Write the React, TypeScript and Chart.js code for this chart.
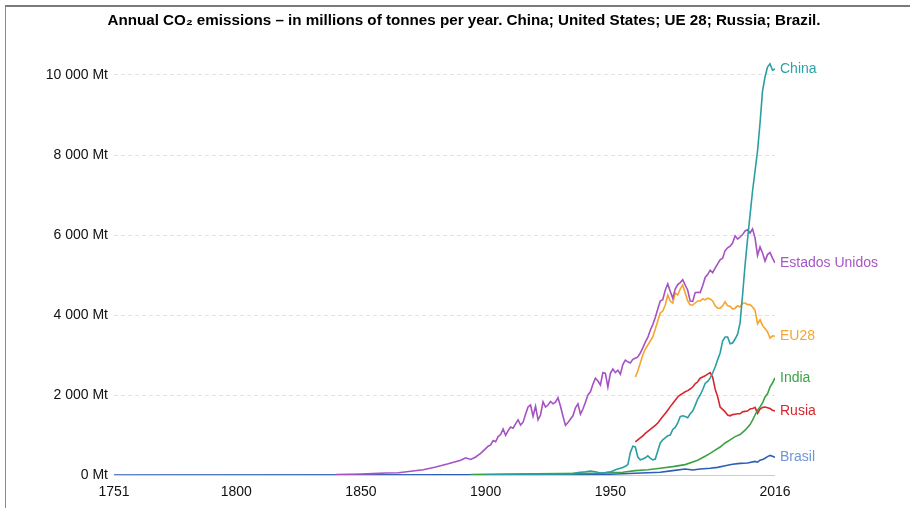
import React, { useEffect, useRef } from 'react';
import { Chart, registerables } from 'chart.js';

Chart.register(...registerables);

const span = (a: number, b: number) => Array.from({ length: b - a + 1 }, (_, i) => a + i);

const TITLE = 'Annual CO\u2082 emissions \u2013 in millions of tonnes per year. China; United States; UE 28; Russia; Brazil.';

const xTicks = [1751, 1800, 1850, 1900, 1950, 2016];
const yTicks = [0, 2000, 4000, 6000, 8000, 10000];

const chinaYears = [1900, 1910, 1920, 1930, 1935, 1937, 1940, 1942, 1944, 1946, 1948, 1950, ...span(1951, 2016)];
const chinaValues = [
  5, 10, 15, 25, 35, 60, 80, 100, 80, 50, 60, 80,
  100, 130, 150, 170, 190, 220, 260, 560, 720, 700,
  450, 380, 400, 430, 480, 420, 380, 400, 600, 800,
  880, 930, 980, 1000, 1140, 1190, 1300, 1460, 1480, 1460,
  1430, 1530, 1600, 1740, 1900, 2000, 2130, 2290, 2340, 2420,
  2550, 2700, 2880, 3050, 3350, 3450, 3450, 3280, 3300, 3400,
  3520, 3800, 4500, 5250, 5900, 6500, 7100, 7600, 8100, 8800,
  9600, 9950, 10200, 10280, 10120, 10150,
];

const usYears = [1840, 1845, 1850, 1855, 1860, 1865, 1870, 1875, 1880, 1885, 1890, 1892, 1894, 1896, 1898, ...span(1900, 2016)];
const usValues = [
  10, 15, 25, 35, 50, 55, 95, 130, 200, 280, 370, 430, 390, 450, 540,
  660, 720, 750, 860, 830, 960, 1010, 1150, 990, 1110,
  1200, 1170, 1280, 1380, 1250, 1320, 1520, 1700, 1750, 1470,
  1720, 1380, 1500, 1830, 1700, 1750, 1840, 1780, 1820, 1930,
  1720, 1470, 1240, 1310, 1400, 1480, 1680, 1780, 1520, 1650,
  1820, 2000, 2080, 2270, 2420, 2350, 2250, 2560, 2540, 2200,
  2540, 2650, 2560, 2620, 2520, 2760, 2870, 2830, 2800, 2890,
  2920, 2950, 3050, 3180, 3320, 3440, 3620, 3760, 3940, 4150,
  4350, 4380, 4620, 4780, 4590, 4420, 4650, 4760, 4810, 4880,
  4750, 4620, 4350, 4340, 4560, 4570, 4560, 4730, 4940, 5010,
  5120, 5060, 5170, 5280, 5380, 5420, 5610, 5680, 5720, 5800,
  5980, 5900, 5950, 6010, 6100, 6130, 6050, 6150, 5930, 5490,
  5700, 5550, 5350, 5510, 5560, 5420, 5300,
];

const eu28Years = span(1960, 2016);
const eu28Values = [
  2450, 2600, 2800, 3000, 3150, 3250, 3350, 3450, 3650, 3850,
  4050, 4100, 4250, 4500, 4350, 4300, 4550, 4500, 4650, 4750,
  4550, 4350, 4250, 4250, 4300, 4350, 4350, 4400, 4380, 4420,
  4400, 4350, 4230, 4170, 4170, 4230, 4330, 4230, 4220, 4150,
  4170, 4230, 4200, 4300, 4300, 4260, 4260, 4200, 4120, 3780,
  3880, 3740, 3660, 3580, 3420, 3480, 3470,
];

const indiaYears = [1894, 1900, 1910, 1920, 1930, 1940, 1945, 1950, 1955, 1960, 1965, 1970, 1975, 1980, 1985, 1988, 1990, 1992, 1994, 1996, 1998, 2000, 2002, 2004, 2006, 2007, 2008, 2009, 2010, 2011, 2012, 2013, 2014, 2015, 2016];
const indiaValues = [
  10, 15, 25, 30, 35, 40, 45, 60, 70, 110,
  130, 170, 210, 260, 370, 470, 540, 620, 700, 800,
  880, 960, 1010, 1120, 1260, 1370, 1500, 1620, 1700, 1800,
  1950, 2030, 2200, 2300, 2430,
];

const russiaYears = span(1960, 2016);
const russiaValues = [
  830, 880, 930, 980, 1040, 1090, 1140, 1190, 1240, 1300,
  1380, 1460, 1540, 1620, 1710, 1790, 1870, 1950, 2000, 2040,
  2080, 2110, 2150, 2200, 2280, 2330, 2420, 2450, 2480, 2520,
  2560, 2450, 2150, 1960, 1700, 1640, 1580, 1500, 1480, 1510,
  1520, 1530, 1530, 1580, 1590, 1600, 1650, 1660, 1690, 1540,
  1650, 1690, 1700, 1680, 1660, 1620, 1600,
];

const brazilYears = [1751, 1900, 1920, 1940, 1950, 1955, 1960, 1965, 1970, 1975, 1980, 1983, 1986, 1990, 1993, 1996, 1999, 2002, 2005, 2008, 2009, 2010, 2011, 2012, 2013, 2014, 2015, 2016];
const brazilValues = [
  0, 2, 5, 10, 20, 30, 45, 55, 70, 110,
  150, 125, 150, 170, 190, 230, 270, 290, 300, 340,
  320, 370, 390, 420, 460, 490, 470, 440,
];

const seriesNames = ['China', 'Estados Unidos', 'EU28', 'India', 'Rusia', 'Brasil'];
const lineColors = ['#2a9ea2', '#a552c2', '#f7a42c', '#3aa245', '#d8262c', '#2e5db5'];
const labelColors = ['#2ea2a6', '#a855c8', '#f5a630', '#3ba345', '#d9262b', '#6f94d8'];

const toPoints = (years: number[], values: number[]) => years.map((y, i) => ({ x: y, y: values[i] }));

const FONT = '"Liberation Sans", Arial, sans-serif';

const endLabels = {
  id: 'endLabels',
  afterDatasetsDraw(chart: any) {
    const ctx = chart.ctx;
    ctx.save();
    ctx.font = `14px ${FONT}`;
    ctx.textBaseline = 'middle';
    ctx.textAlign = 'left';
    chart.data.datasets.forEach((ds: any, i: number) => {
      const meta = chart.getDatasetMeta(i);
      const pt = meta.data[meta.data.length - 1];
      if (!pt) return;
      ctx.fillStyle = ds.labelColor;
      ctx.fillText(ds.label, pt.x + 5, pt.y);
    });
    ctx.restore();
  },
};

const titleText = {
  id: 'titleText',
  afterDraw(chart: any) {
    const ctx = chart.ctx;
    ctx.save();
    ctx.font = `bold 15.2px ${FONT}`;
    ctx.fillStyle = '#000';
    ctx.textAlign = 'center';
    ctx.textBaseline = 'middle';
    ctx.fillText(TITLE, 458, 14);
    ctx.restore();
  },
};

export default function App() {
  const ref = useRef<HTMLCanvasElement | null>(null);

  useEffect(() => {
    if (!ref.current) return;
    const all = [
      [chinaYears, chinaValues],
      [usYears, usValues],
      [eu28Years, eu28Values],
      [indiaYears, indiaValues],
      [russiaYears, russiaValues],
      [brazilYears, brazilValues],
    ];
    const chart = new Chart(ref.current, {
      type: 'line',
      data: {
        datasets: all.map(([ys, vs], i) => ({
          label: seriesNames[i],
          data: toPoints(ys as number[], vs as number[]),
          borderColor: lineColors[i],
          backgroundColor: lineColors[i],
          borderWidth: 1.6,
          pointRadius: 0,
          tension: 0,
          fill: false,
          labelColor: labelColors[i],
        })) as any,
      },
      options: {
        responsive: false,
        animation: false,
        layout: { padding: { top: 52, right: 135, left: 0, bottom: 0 } },
        plugins: {
          legend: { display: false },
          tooltip: { enabled: false },
          title: { display: false },
        },
        scales: {
          x: {
            type: 'linear',
            min: 1751,
            max: 2016,
            afterBuildTicks: (s: any) => { s.ticks = xTicks.map((v) => ({ value: v })); },
            afterFit: (s: any) => { s.height = 33; },
            grid: { display: false, drawTicks: false },
            border: { display: false },
            ticks: {
              padding: 9,
              autoSkip: false,
              maxRotation: 0,
              color: '#111',
              font: { size: 14, family: FONT },
              callback: (v: any) => String(v),
            },
          },
          y: {
            min: 0,
            max: 10400,
            afterBuildTicks: (s: any) => { s.ticks = yTicks.map((v) => ({ value: v })); },
            afterFit: (s: any) => { s.width = 108; },
            grid: {
              drawTicks: false,
              color: (c: any) => (c.tick && c.tick.value === 0 ? '#cccccc' : '#e2e2e2'),
              lineWidth: 1,
            },
            border: {
              display: false,
              dash: (c: any) => (c.tick && c.tick.value === 0 ? [] : [4, 3]),
            } as any,
            ticks: {
              padding: 6,
              color: '#111',
              font: { size: 14, family: FONT },
              callback: (v: any) => {
                const n = Number(v);
                if (n >= 1000) return `${Math.floor(n / 1000)} ${String(n % 1000).padStart(3, '0')} Mt`;
                return `${n} Mt`;
              },
            },
          },
        },
      },
      plugins: [endLabels, titleText],
    });
    return () => chart.destroy();
  }, []);

  return (
    <div
      style={{
        position: 'fixed',
        left: 5,
        top: 5,
        width: 905,
        height: 503,
        boxSizing: 'border-box',
        borderTop: '2px solid #7a7a7a',
        borderLeft: '1px solid #8a8a8a',
        background: '#fff',
      }}
    >
      <canvas ref={ref} width={904} height={501} style={{ display: 'block' }} />
    </div>
  );
}
